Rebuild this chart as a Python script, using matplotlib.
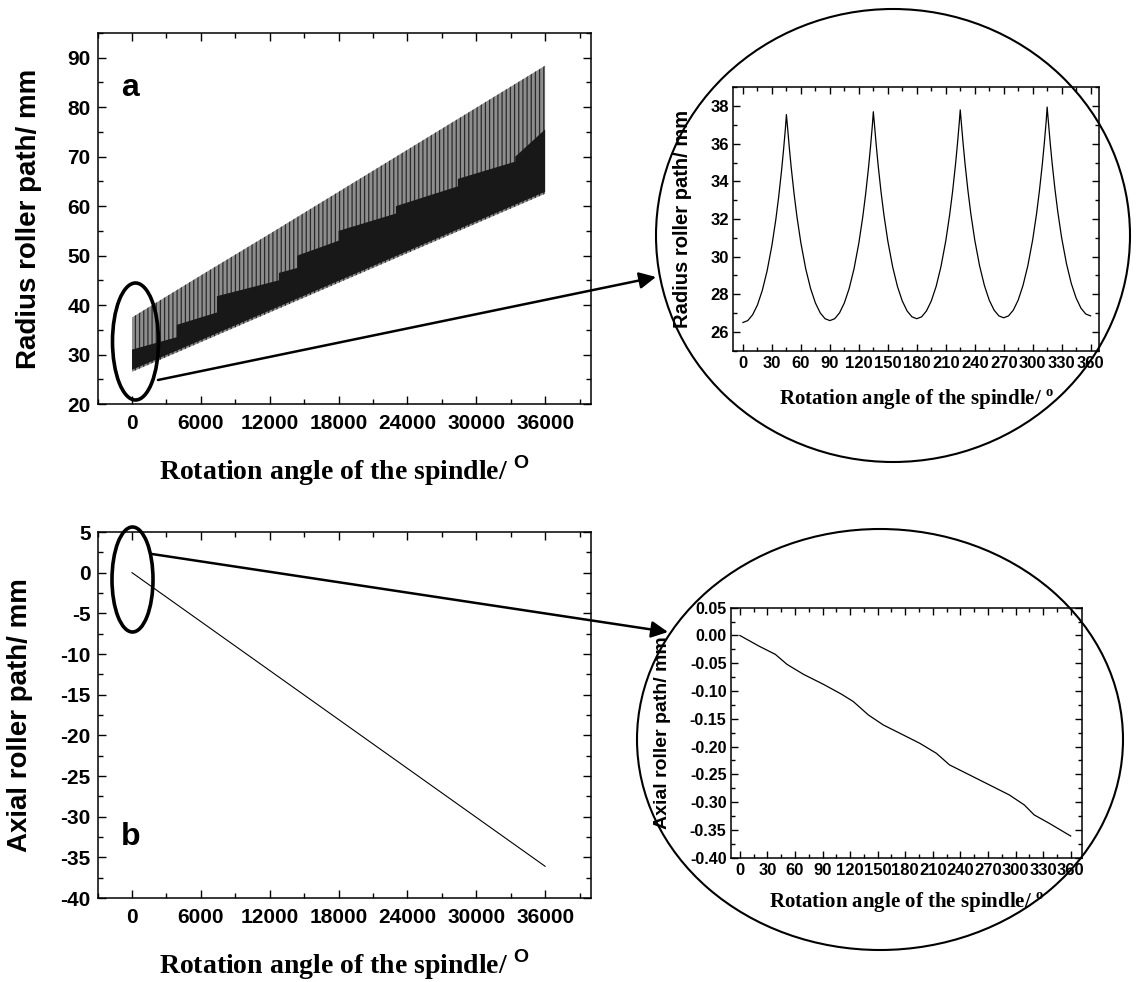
import numpy as np
import matplotlib
matplotlib.use('Agg')
import matplotlib.pyplot as plt
from matplotlib.patches import Ellipse
from matplotlib.ticker import MultipleLocator

# ---- data ----
# (a) radius of roller path over 100 spindle turns: envelopes of the dense trace
angle_env = [0, 6000, 12000, 18000, 24000, 30000, 36000]
radius_min = [26.5, 32.5, 38.5, 44.5, 50.5, 56.5, 62.5]
radius_max = [37.5, 46.0, 54.4, 62.9, 71.4, 79.9, 88.4]
# dark core of the trace (where it dwells near the minimum), with its steps
core_angle = [0, 3900, 3900, 7400, 7400, 12800, 12800, 14400, 14400, 18000,
              18000, 23000, 23000, 28400, 28400, 33400, 33400, 36000]
core_top = [31.0, 33.5, 36.0, 38.5, 41.8, 45.0, 46.5, 47.5, 50.0, 53.0,
            55.0, 58.5, 60.0, 64.0, 65.5, 69.0, 70.0, 75.5]

# (a) zoom: first spindle turn
turn_deg = [0, 5, 10, 15, 20, 25, 30, 34, 37, 40, 42, 44, 45, 46, 48, 50, 53, 56, 60, 65, 70, 75, 80, 85,
            90, 95, 100, 105, 110, 115, 120, 124, 127, 130, 132, 134, 135, 136, 138, 140, 143, 146,
            150, 155, 160, 165, 170, 175,
            180, 185, 190, 195, 200, 205, 210, 214, 217, 220, 222, 224, 225, 226, 228, 230, 233, 236,
            240, 245, 250, 255, 260, 265,
            270, 275, 280, 285, 290, 295, 300, 304, 307, 310, 312, 314, 315, 316, 318, 320, 323, 326,
            330, 335, 340, 345, 350, 355,
            360]
turn_radius = [26.50, 26.60, 26.91, 27.43, 28.20, 29.24, 30.60, 31.96, 33.18, 34.59, 35.66, 36.84,
               37.55, 36.98, 35.79, 34.72, 33.31, 32.09, 30.72, 29.35, 28.31, 27.54, 27.01, 26.70,
               26.60, 26.70, 27.01, 27.54, 28.31, 29.35, 30.72, 32.09, 33.31, 34.72, 35.79, 36.98,
               37.70, 37.12, 35.93, 34.85, 33.43, 32.21, 30.83, 29.46, 28.41, 27.64, 27.11, 26.80,
               26.70, 26.80, 27.11, 27.64, 28.41, 29.46, 30.83, 32.21, 33.43, 34.85, 35.93, 37.12,
               37.80, 37.19, 36.00, 34.92, 33.50, 32.27, 30.89, 29.52, 28.47, 27.69, 27.16, 26.85,
               26.75, 26.85, 27.16, 27.69, 28.47, 29.52, 30.89, 32.27, 33.50, 34.92, 36.00, 37.19,
               37.95, 37.33, 36.13, 35.05, 33.62, 32.39, 31.00, 29.63, 28.57, 27.80, 27.26, 26.95,
               26.85]

# (b) axial roller path
axial_angle = [0, 36000]
axial_path = [0.0, -36.1]

# (b) zoom: first spindle turn
axial_turn_deg = [0, 20.6, 38.6, 51.3, 69.3, 91.0, 110.9, 123.5, 139.8, 156.0, 177.7,
                  195.7, 213.8, 228.2, 246.3, 271.6, 293.2, 309.5, 320.3, 336.6, 360.0]
axial_turn_mm = [0.0, -0.019, -0.034, -0.052, -0.070, -0.088, -0.106, -0.119, -0.143,
                 -0.161, -0.179, -0.194, -0.212, -0.233, -0.248, -0.269, -0.287,
                 -0.305, -0.323, -0.338, -0.361]
axial_turn_ticks = [-0.40, -0.35, -0.30, -0.25, -0.20, -0.15, -0.10, -0.05, 0.00, 0.05]
axial_turn_labels = ['-0.40', '-0.35', '-0.30', '-0.25', '-0.20', '-0.15', '-0.10',
                     '-0.05', '0.00', '0.05']

W, H = 1137, 982

plt.rcParams['font.family'] = ['Liberation Sans', 'DejaVu Sans']
plt.rcParams['font.weight'] = 'bold'
plt.rcParams['axes.unicode_minus'] = False
plt.rcParams['mathtext.fontset'] = 'custom'
plt.rcParams['mathtext.rm'] = 'Liberation Serif:bold'
plt.rcParams['mathtext.bf'] = 'Liberation Sans:bold'
plt.rcParams['hatch.linewidth'] = 0.9
plt.rcParams['axes.linewidth'] = 1.1

fig = plt.figure(figsize=(W / 100, H / 100), dpi=100)


def px_axes(left, top, right, bottom):
    return fig.add_axes([left / W, 1 - bottom / H, (right - left) / W, (bottom - top) / H])


def style(ax, tick_size, major_len=6, minor_len=3.5, xpad=7, ypad=5):
    ax.tick_params(which='both', direction='in', top=True, right=True,
                   labelsize=tick_size, width=1.0)
    ax.tick_params(which='major', length=major_len)
    ax.tick_params(which='minor', length=minor_len)
    ax.tick_params(axis='x', pad=xpad)
    ax.tick_params(axis='y', pad=ypad)
    for lab in ax.get_xticklabels() + ax.get_yticklabels():
        lab.set_fontweight('bold')


def place_labels(ax, xlabel, ylabel, xpos, ypos, xsize, ysize):
    ax.set_xlabel(xlabel, fontsize=xsize, family=['Liberation Serif'], fontweight='bold')
    ax.set_ylabel(ylabel, fontsize=ysize, fontweight='bold')
    ax.xaxis.set_label_coords(0.5, xpos)
    ax.yaxis.set_label_coords(ypos, 0.5)
    ax.xaxis.label.set_va('center')
    ax.yaxis.label.set_va('center')


# ---- panel a ----
ax_a = px_axes(97.6, 33, 591, 404)
lo_core = np.interp(core_angle, angle_env, radius_min)
ax_a.fill_between(angle_env, radius_min, radius_max, facecolor='#8e8e8e',
                  edgecolor='#2a2a2a', linewidth=0, hatch='||||')
ax_a.fill_between(core_angle, lo_core + 0.4, core_top, facecolor='#181818',
                  edgecolor='none', linewidth=0)
ax_a.set_xlim(-3000, 40000)
ax_a.set_ylim(20, 95)
ax_a.set_xticks([0, 6000, 12000, 18000, 24000, 30000, 36000])
ax_a.xaxis.set_minor_locator(MultipleLocator(3000))
ax_a.set_yticks([20, 30, 40, 50, 60, 70, 80, 90])
ax_a.yaxis.set_minor_locator(MultipleLocator(5))
style(ax_a, 15)
place_labels(ax_a, r'Rotation angle of the spindle/ $^{\mathbf{O}}$',
             'Radius roller path/ mm', -0.181, -0.139, 20, 20)
ax_a.text(0.066, 0.852, 'a', transform=ax_a.transAxes, fontsize=23,
          fontweight='bold', ha='center', va='center')

# ---- panel b ----
ax_b = px_axes(97.6, 532, 591, 898)
ax_b.plot(axial_angle, axial_path, color='k', lw=0.8)
ax_b.set_xlim(-3000, 40000)
ax_b.set_ylim(-40, 5)
ax_b.set_xticks([0, 6000, 12000, 18000, 24000, 30000, 36000])
ax_b.xaxis.set_minor_locator(MultipleLocator(3000))
ax_b.set_yticks(np.arange(-40, 6, 5))
ax_b.yaxis.set_minor_locator(MultipleLocator(2.5))
style(ax_b, 15)
place_labels(ax_b, r'Rotation angle of the spindle/ $^{\mathbf{O}}$',
             'Axial roller path/ mm', -0.183, -0.157, 20, 20)
ax_b.text(0.068, 0.167, 'b', transform=ax_b.transAxes, fontsize=23,
          fontweight='bold', ha='center', va='center')

# ---- inset a ----
in_a = px_axes(733.3, 87.3, 1099.3, 350.7)
in_a.plot(turn_deg, turn_radius, color='k', lw=0.9)
in_a.set_xlim(-10, 369)
in_a.set_ylim(25, 39)
in_a.set_xticks(np.arange(0, 361, 30))
in_a.xaxis.set_minor_locator(MultipleLocator(15))
in_a.set_yticks([26, 28, 30, 32, 34, 36, 38])
in_a.yaxis.set_minor_locator(MultipleLocator(1))
style(in_a, 12, major_len=5, minor_len=3, xpad=4, ypad=3)
place_labels(in_a, r'Rotation angle of the spindle/ $^{\mathrm{o}}$',
             'Radius roller path/ mm', -0.187, -0.14, 15, 14.5)

# ---- inset b ----
in_b = px_axes(730.7, 607.7, 1081.7, 857.7)
in_b.plot(axial_turn_deg, axial_turn_mm, color='k', lw=0.9)
in_b.set_xlim(-10, 372)
in_b.set_ylim(-0.40, 0.05)
in_b.set_xticks(np.arange(0, 361, 30))
in_b.xaxis.set_minor_locator(MultipleLocator(15))
in_b.set_yticks(axial_turn_ticks, axial_turn_labels)
in_b.yaxis.set_minor_locator(MultipleLocator(0.025))
style(in_b, 11.5, major_len=5, minor_len=3, xpad=4, ypad=3)
in_b.tick_params(axis='x', labelsize=12)
place_labels(in_b, r'Rotation angle of the spindle/ $^{\mathrm{o}}$',
             'Axial roller path/ mm', -0.181, -0.193, 15, 14)

# ---- overlay: magnifier circles, marker ellipses and arrows (pixel coords) ----
ov = fig.add_axes([0, 0, 1, 1])
ov.set_xlim(0, W)
ov.set_ylim(H, 0)
ov.axis('off')
ov.patch.set_alpha(0)

ov.add_patch(Ellipse((893, 235.5), 474, 453, fill=False, lw=1.5, ec='k'))
ov.add_patch(Ellipse((880, 739.5), 486, 421, fill=False, lw=1.5, ec='k'))
ov.add_patch(Ellipse((135.5, 341.5), 46, 117, fill=False, lw=2.6, ec='k'))
ov.add_patch(Ellipse((132.5, 579.5), 41, 105, fill=False, lw=2.6, ec='k'))

arrow = dict(arrowstyle='-|>', color='k', lw=1.8, mutation_scale=25,
             shrinkA=0, shrinkB=0)
ov.annotate('', xy=(656, 277), xytext=(158, 380), arrowprops=arrow)
ov.annotate('', xy=(668, 632), xytext=(152, 554), arrowprops=arrow)

fig.savefig('out.png', dpi=100)
